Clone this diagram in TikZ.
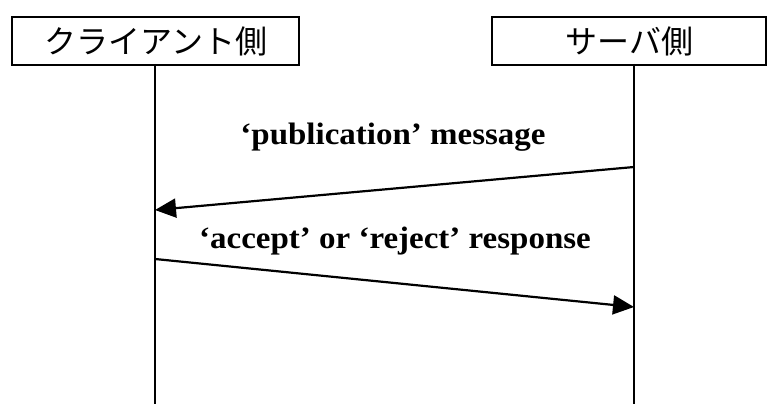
\documentclass[tikz,border=0pt]{standalone}
\usepackage{fontspec}
\setmainfont{Liberation Serif}
\newfontfamily\jpfont{Noto Sans CJK JP}
\usetikzlibrary{arrows.meta}
\begin{document}
\begin{tikzpicture}[x=1pt,y=-1pt,
  actor/.style={draw=black,line width=2.4pt,minimum height=48pt,inner sep=0pt,font=\jpfont\fontsize{32}{34}\selectfont,anchor=north west},
  life/.style={draw=black,line width=2.4pt},
  msg/.style={draw=black,line width=2.2pt,-{Triangle[length=21pt,width=19pt]}},
  lbl/.style={font=\bfseries\fontsize{31}{33}\selectfont,inner sep=0pt}]
\useasboundingbox (0,0) rectangle (768,404);
\node[actor,minimum width=287pt] (cbox) at (11,16) {クライアント側};
\node[actor,minimum width=274pt] (sbox) at (491,16) {サーバ側};
\coordinate (cl0) at (155,64);
\coordinate (cl1) at (155,405);
\coordinate (sl0) at (634,64);
\coordinate (sl1) at (634,405);
\draw[life] (cl0) -- (cl1);
\draw[life] (sl0) -- (sl1);
\coordinate (m1s) at (634,167);
\coordinate (m1e) at (155,210);
\coordinate (m2s) at (155,259);
\coordinate (m2e) at (634,307);
\draw[msg] (m1s) -- (m1e);
\draw[msg] (m2s) -- (m2e);
\node[lbl,anchor=base] (l1) at (393,144) {\scalebox{1.064}[1]{‘publication’ message}};
\node[lbl,anchor=base] (l2) at (395,248) {\scalebox{1.064}[1]{‘accept’ or ‘reject’ response}};
\end{tikzpicture}
\end{document}
